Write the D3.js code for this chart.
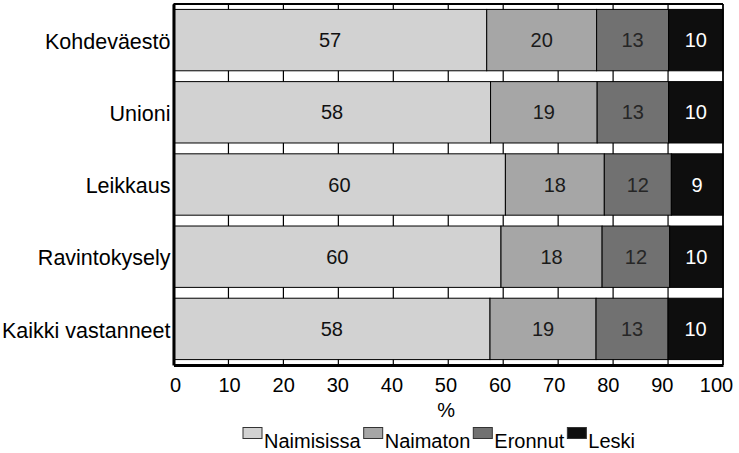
<!DOCTYPE html>
<html><head><meta charset="utf-8">
<script src="https://cdn.jsdelivr.net/npm/d3@7"></script>
<style>body{margin:0;background:#fff} text{font-family:"Liberation Sans",Arial,Helvetica,sans-serif}</style>
</head><body><svg id="c" width="739" height="453"></svg>
<script>
const categories = ["Kohdeväestö","Unioni","Leikkaus","Ravintokysely","Kaikki vastanneet"];
const seriesNames = ["Naimisissa","Naimaton","Eronnut","Leski"];
const naimisissa = [57.0,57.7,60.4,59.6,57.6];
const naimaton   = [20.0,19.4,18.0,18.4,19.3];
const eronnut    = [13.1,13.0,12.2,12.3,13.1];
const leski      = [9.9, 9.9, 9.4, 9.7, 10.0];
const xTicks = [0,10,20,30,40,50,60,70,80,90,100];
const xTitle = "%";

const colors = ["#d2d2d2","#a6a6a6","#717171","#0e0e0e"];
const labelColors = ["#111","#1a1a1a","#262626","#ffffff"];

const rows = categories.map((c,i)=>({cat:c, Naimisissa:naimisissa[i], Naimaton:naimaton[i], Eronnut:eronnut[i], Leski:leski[i]}));
const stacked = d3.stack().keys(seriesNames)(rows);

const svg = d3.select("#c");
const x = d3.scaleLinear().domain([0,100]).range([173.5,723]);
const y = d3.scaleBand().domain(categories).range([4,365]).paddingInner(0.15).paddingOuter(0.075);

svg.append("rect").attr("x",x(0)).attr("y",4).attr("width",x(100)-x(0)).attr("height",361).attr("fill","#fff");
svg.append("g").selectAll("line").data(xTicks).join("line")
  .attr("x1",d=>x(d)).attr("x2",d=>x(d)).attr("y1",4).attr("y2",365)
  .attr("stroke","#000").attr("stroke-width",1.2);

const g = svg.append("g");
stacked.forEach((s,si)=>{
  g.append("g").selectAll("rect").data(s).join("rect")
    .attr("x",d=>x(d[0])).attr("width",d=>x(d[1])-x(d[0]))
    .attr("y",d=>y(d.data.cat)).attr("height",y.bandwidth())
    .attr("fill",colors[si]).attr("stroke","#000").attr("stroke-width",1);
});
stacked.forEach((s,si)=>{
  g.append("g").selectAll("text").data(s).join("text")
    .attr("x",d=>(x(d[0])+x(d[1]))/2).attr("y",d=>y(d.data.cat)+y.bandwidth()/2)
    .attr("dy","0.35em").attr("text-anchor","middle").attr("font-size",20)
    .attr("fill",labelColors[si]).text(d=>Math.round(d[1]-d[0]));
});

svg.append("line").attr("x1",x(0)).attr("x2",x(100)).attr("y1",4).attr("y2",4).attr("stroke","#000").attr("stroke-width",2);
svg.append("line").attr("x1",x(100)).attr("x2",x(100)).attr("y1",4).attr("y2",365).attr("stroke","#000").attr("stroke-width",1.5);

const xAxis = svg.append("g").attr("transform","translate(0,365)")
  .call(d3.axisBottom(x).tickValues(xTicks).tickSize(0).tickPadding(13));
xAxis.select(".domain").attr("stroke","#000").attr("stroke-width",3);
xAxis.selectAll("text").attr("font-size",20).attr("fill","#000").attr("font-family",null)
  .attr("dx",d=>(1.5 - d*0.085).toFixed(1));

const yAxis = svg.append("g").attr("transform",`translate(${x(0)},0)`)
  .call(d3.axisLeft(y).tickSize(0).tickPadding(3));
yAxis.select(".domain").attr("stroke","#000").attr("stroke-width",3);
yAxis.selectAll("text").attr("font-size",21.5).attr("fill","#000").attr("font-family",null).attr("dy","0.4em");

svg.append("text").attr("x",x(50)-2).attr("y",417).attr("text-anchor","middle").attr("font-size",20).text(xTitle);

const leg = svg.append("g");
let lx = 243;
seriesNames.forEach((n,i)=>{
  leg.append("rect").attr("x",lx).attr("y",427.5).attr("width",19).attr("height",11)
    .attr("fill",colors[i]).attr("stroke","#333").attr("stroke-width",1);
  const t = leg.append("text").attr("x",lx+21).attr("y",448).attr("font-size",20).text(n);
  lx += 21 + t.node().getComputedTextLength() + 3;
});
</script></body></html>
